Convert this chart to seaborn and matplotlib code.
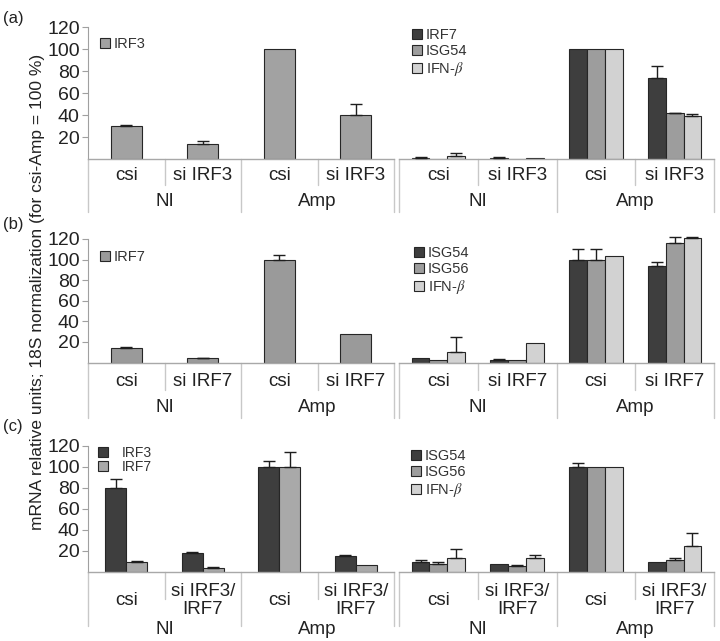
import numpy as np
import pandas as pd
import matplotlib
matplotlib.use("Agg")
import matplotlib.pyplot as plt
import seaborn as sns
from matplotlib.transforms import blended_transform_factory, ScaledTranslation

sns.set_style("white")
plt.rcParams["font.family"] = ["Liberation Sans", "DejaVu Sans"]
plt.rcParams["mathtext.fontset"] = "stix"

# ---------------- data ----------------
groups = ["NI", "NI", "Amp", "Amp"]
cond_a = ["csi", "si IRF3", "csi", "si IRF3"]
cond_b = ["csi", "si IRF7", "csi", "si IRF7"]
cond_c = ["csi", "si IRF3/\nIRF7", "csi", "si IRF3/\nIRF7"]
yticks = [20, 40, 60, 80, 100, 120]

# (a)
a_irf3 = [30, 14, 100, 40]
a_irf3_err = [1, 2.5, 0, 10]
a_irf7 = [1, 1, 100, 74]
a_irf7_err = [0.5, 0.5, 0, 10.5]
a_isg54 = [0.3, 0.2, 100, 41.5]
a_isg54_err = [0, 0, 0, 0.7]
a_ifnb = [2.7, 0.8, 100, 38.8]
a_ifnb_err = [2.5, 0, 0, 2.5]

# (b)
b_irf7 = [14, 4, 100, 28]
b_irf7_err = [1, 0.8, 4, 0]
b_isg54 = [4, 2, 100, 93.5]
b_isg54_err = [0, 1, 10, 4]
b_isg56 = [2, 2.7, 100, 116.5]
b_isg56_err = [0, 0, 10, 5]
b_ifnb = [10, 18.5, 103, 121]
b_ifnb_err = [15, 0, 0, 0.4]

# (c)
c_irf3 = [79.5, 18, 100, 15]
c_irf3_err = [8.5, 0.7, 5, 1]
c_irf7 = [9.5, 3.8, 100, 6.4]
c_irf7_err = [0.7, 0.7, 14, 0]
c_isg54 = [9, 6.7, 100, 9]
c_isg54_err = [2, 0, 3, 0]
c_isg56 = [6.7, 5.4, 100, 11]
c_isg56_err = [2, 0.9, 0, 2.3]
c_ifnb = [12.4, 13.3, 100, 24]
c_ifnb_err = [9, 2.3, 0, 12.5]

DARK, MID, LIGHT = "#3e3e3e", "#9d9d9d", "#d2d2d2"
IFNB = "IFN-$\\beta$"

W, H = 720, 641
fig = plt.figure(figsize=(W / 100, H / 100), dpi=100)


def make_ax(x0, x1, base, scale, ymax):
    top = base - ymax * scale
    ax = fig.add_axes([x0 / W, 1 - base / H, (x1 - x0) / W, (base - top) / H])
    return ax


def panel(ax, conds, series, width, ymax, show_y, lab_off, grp_off,
          short_len, long_len, leg_xy, leg_kw):
    order = [f"{g}_{i}" for i, g in enumerate(groups)]
    rows = []
    for name, vals, errs, col in series:
        for k, v in zip(order, vals):
            rows.append({"pos": k, "value": v, "gene": name})
    df = pd.DataFrame(rows)
    names = [s[0] for s in series]
    cols = [s[3] for s in series]
    sns.barplot(data=df, x="pos", y="value", hue="gene", order=order,
                hue_order=names, palette=cols, width=width, saturation=1,
                edgecolor="#262626", linewidth=0.8, errorbar=None, ax=ax)
    # error bars (upper only)
    for cont, (name, vals, errs, col) in zip(ax.containers, series):
        for bar, e in zip(cont, errs):
            if e > 0:
                xc = bar.get_x() + bar.get_width() / 2
                ax.errorbar(xc, bar.get_height(), yerr=[[0], [e]], fmt="none",
                            ecolor="#1e1e1e", elinewidth=1.0, capsize=4,
                            capthick=1.0, zorder=5)
    ax.set_xlim(-0.5, 3.5)
    ax.set_ylim(0, ymax)
    ax.set_xlabel("")
    ax.set_ylabel("")
    ax.set_xticks([])
    for s in ["top", "right"]:
        ax.spines[s].set_visible(False)
    ax.spines["bottom"].set_color("#a8a8a8")
    ax.spines["bottom"].set_linewidth(1.0)
    if show_y:
        ax.spines["left"].set_color("#a0a0a0")
        ax.spines["left"].set_bounds(0, 120)
        ax.set_yticks(yticks)
        ax.set_yticklabels([str(t) for t in yticks])
        ax.tick_params(axis="y", length=4, width=0.8, color="#a0a0a0",
                       labelsize=14, labelcolor="#222222", pad=2, left=True)
    else:
        ax.spines["left"].set_visible(False)
        ax.set_yticks([])
    hpx = ax.get_position().height * H
    trans = blended_transform_factory(ax.transData, ax.transAxes)
    for i, c in enumerate(conds):
        t = trans + ScaledTranslation(0, -lab_off / 100, fig.dpi_scale_trans)
        ax.text(i, 0, c, transform=t, ha="center", va="center",
                fontsize=13.5, color="#222222", linespacing=1.1)
    for gi, g in enumerate(["NI", "Amp"]):
        t = trans + ScaledTranslation(0, -grp_off / 100, fig.dpi_scale_trans)
        ax.text(gi * 2 + 0.5, 0, g, transform=t, ha="center", va="center",
                fontsize=13.5, color="#222222")
    for xs, L in [(-0.5, long_len), (0.5, short_len), (1.5, long_len),
                  (2.5, short_len), (3.5, long_len)]:
        ax.plot([xs, xs], [0, -L / hpx], transform=trans, color="#c8c8c8",
                lw=1.0, clip_on=False)
    h, l = ax.get_legend_handles_labels()
    kw = dict(fontsize=10.5, handlelength=0.7, handleheight=0.7,
              handletextpad=0.25, labelspacing=0.15)
    kw.update(leg_kw)
    ax.legend(h, l, loc="upper left", bbox_to_anchor=(leg_xy[0] / W, 1 - leg_xy[1] / H),
              bbox_transform=fig.transFigure, frameon=False, borderaxespad=0,
              borderpad=0, labelcolor="#333333", **kw)


LX0, LX1, RX0, RX1 = 88, 394, 399, 714

# row (a)
ax = make_ax(LX0, LX1, 159, 1.1, 120)
panel(ax, cond_a, [("IRF3", a_irf3, a_irf3_err, "#a2a2a2")], 0.4, 120, True,
      17, 43, 26, 53, (100, 37), {})
ax = make_ax(RX0, RX1, 159, 1.1, 120)
panel(ax, cond_a, [("IRF7", a_irf7, a_irf7_err, DARK),
                   ("ISG54", a_isg54, a_isg54_err, MID),
                   (IFNB, a_ifnb, a_ifnb_err, LIGHT)], 0.68, 120, False,
      17, 43, 26, 53, (412, 28), {})

# row (b)
ax = make_ax(LX0, LX1, 362.5, 1.03, 124)
panel(ax, cond_b, [("IRF7", b_irf7, b_irf7_err, "#9a9a9a")], 0.4, 124, True,
      19, 45.5, 27.5, 55, (100, 250), {})
ax = make_ax(RX0, RX1, 362.5, 1.03, 124)
panel(ax, cond_b, [("ISG54", b_isg54, b_isg54_err, DARK),
                   ("ISG56", b_isg56, b_isg56_err, MID),
                   (IFNB, b_ifnb, b_ifnb_err, LIGHT)], 0.68, 124, False,
      19, 45.5, 27.5, 55, (414, 246), {})

# row (c)
ax = make_ax(LX0, LX1, 571.5, 1.05, 120)
panel(ax, cond_c, [("IRF3", c_irf3, c_irf3_err, DARK),
                   ("IRF7", c_irf7, c_irf7_err, "#a9a9a9")], 0.55, 120, True,
      29, 58.5, 27, 54, (98, 446),
      dict(fontsize=10, handletextpad=1.0, labelspacing=0.0))
ax = make_ax(RX0, RX1, 571.5, 1.05, 120)
panel(ax, cond_c, [("ISG54", c_isg54, c_isg54_err, DARK),
                   ("ISG56", c_isg56, c_isg56_err, MID),
                   (IFNB, c_ifnb, c_ifnb_err, LIGHT)], 0.68, 120, False,
      29, 58.5, 27, 54, (411, 449), {})

fig.text(38 / W, 1 - 292 / H,
         "mRNA relative units; 18S normalization (for csi-Amp = 100 %)",
         rotation=90, ha="center", va="center", fontsize=12.5, color="#222222")
for lab, y in [("(a)", 18), ("(b)", 225), ("(c)", 427)]:
    fig.text(3 / W, 1 - y / H, lab, ha="left", va="center", fontsize=12,
             color="#222222")

fig.savefig("out.png", dpi=100)
